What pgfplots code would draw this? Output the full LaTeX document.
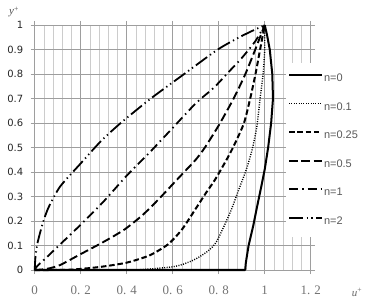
\documentclass[border=0pt]{standalone}
\usepackage{fontspec}
\setmainfont{DejaVu Sans}
\newfontfamily\xfont{Liberation Serif}
\newfontfamily\lfont{Liberation Sans}
\usepackage{pgfplots}
\pgfplotsset{compat=1.18}
\newcommand\xl[1]{\mbox{\xfont\fontsize{13}{14}\selectfont #1}}
\newcommand\yl[1]{\mbox{\fontsize{10}{12}\selectfont #1}}
\begin{document}
\begin{tikzpicture}
\path[use as bounding box] (-34.7bp,-35bp) rectangle (331.3bp,270bp);
\begin{axis}[
  scale only axis, width=276bp, height=245bp,
  xmin=0, xmax=1.2, ymin=0, ymax=1,
  clip=false,
  axis line style={draw=none},
  xtick={0,0.2,0.4,0.6,0.8,1,1.2},
  xticklabels={\xl{0},\xl{0.\hspace{4bp}2},\xl{0.\hspace{4bp}4},\xl{0.\hspace{4bp}6},\xl{0.\hspace{4bp}8},\xl{1},\xl{1.\hspace{4bp}2}},
  minor x tick num=4,
  ytick={0,0.1,0.2,0.3,0.4,0.5,0.6,0.7,0.8,0.9,1},
  yticklabels={\yl{0},\yl{0.1},\yl{0.2},\yl{0.3},\yl{0.4},\yl{0.5},\yl{0.6},\yl{0.7},\yl{0.8},\yl{0.9},\yl{1}},
  grid=both,
  major grid style={draw=black!38, line width=0.7bp},
  minor grid style={draw=black!20, line width=0.7bp},
  tick align=outside, major tick length=4bp, minor tick length=0pt,
  every tick/.style={draw=black!38, line width=0.7bp},
  xticklabel style={text=black!55, yshift=-8bp},
  yticklabel style={text=black!85, xshift=-4bp},
  every axis x label/.style={at={(axis description cs:1.168,-0.09)}, anchor=center},
  every axis y label/.style={at={(axis description cs:-0.075,1.053)}, anchor=center},
  xlabel={\xfont\fontsize{11}{12}\selectfont\color{black!60}\textit{u}\textsuperscript{+}},
  ylabel={\xfont\fontsize{11}{12}\selectfont\color{black!70}\textit{y}\textsuperscript{+}},
  legend style={at={(axis description cs:0.91,0.845)}, anchor=north west,
    fill=white, draw=none, inner xsep=2bp, inner ysep=10bp, row sep=17.4bp,
    font=\lfont\fontsize{11}{12}\selectfont, text=black!65,
    nodes={inner sep=1bp}, cells={anchor=west}},
  legend image code/.code={\draw[#1] (0bp,3.5bp) -- (33bp,3.5bp);},
  every axis plot/.append style={black},
]
\addplot[line width=2bp, line join=round] coordinates {
(0,0) (0.915,0) (0.918,0.03) (0.93,0.1) (0.95,0.18) (0.965,0.25) (0.985,0.34) (1.0,0.41) (1.015,0.5) (1.028,0.6) (1.036,0.7) (1.033,0.8) (1.022,0.9) (1.01,0.96) (1,1)};
\addlegendentry{n=0}
\addplot[line width=1.4bp, dash pattern=on 1bp off 1.4bp, smooth, tension=0.4] coordinates {
(0,0) (0.4,0) (0.5,0.004) (0.6,0.013) (0.65,0.025) (0.7,0.045) (0.75,0.075) (0.79,0.115) (0.85,0.235) (0.89,0.335) (0.92,0.41) (0.945,0.49) (0.965,0.58) (0.98,0.7) (0.993,0.8) (1.0,0.9) (1,1)};
\addlegendentry{n=0.1}
\addplot[line width=2bp, dash pattern=on 5.5bp off 2.8bp, smooth, tension=0.4] coordinates {
(0,0) (0.15,0.001) (0.28,0.012) (0.4,0.03) (0.5,0.06) (0.58,0.105) (0.64,0.165) (0.7,0.25) (0.745,0.315) (0.785,0.37) (0.84,0.46) (0.87,0.515) (0.91,0.6) (0.937,0.7) (0.96,0.8) (0.98,0.9) (1,1)};
\addlegendentry{n=0.25}
\addplot[line width=1.9bp, dash pattern=on 8.5bp off 3.8bp, smooth, tension=0.4] coordinates {
(0,0) (0.03,0.002) (0.06,0.006) (0.11,0.02) (0.2,0.065) (0.3,0.115) (0.39,0.165) (0.47,0.225) (0.54,0.29) (0.6,0.35) (0.65,0.4) (0.7,0.45) (0.74,0.5) (0.8,0.59) (0.865,0.7) (0.916,0.8) (0.959,0.9) (1,1)};
\addlegendentry{n=0.5}
\addplot[line width=1.8bp, dash pattern=on 9bp off 4bp on 1.5bp off 4bp, smooth, tension=0.4] coordinates {
(0,0) (0.01,0.015) (0.05,0.05) (0.1,0.095) (0.2,0.185) (0.3,0.28) (0.4,0.385) (0.5,0.48) (0.6,0.58) (0.7,0.68) (0.78,0.745) (0.84,0.805) (0.9,0.865) (0.96,0.935) (1,1)};
\addlegendentry{n=1}
\addplot[line width=1.8bp, dash pattern=on 14bp off 3.5bp on 1.3bp off 3.5bp on 1.3bp off 3.5bp, smooth, tension=0.4] coordinates {
(0,0) (0.003,0.05) (0.01,0.1) (0.02,0.14) (0.037,0.197) (0.06,0.255) (0.11,0.34) (0.2,0.435) (0.287,0.525) (0.374,0.6) (0.505,0.7) (0.65,0.8) (0.796,0.9) (0.9,0.955) (1,1)};
\addlegendentry{n=2}
\end{axis}
\end{tikzpicture}
\end{document}
